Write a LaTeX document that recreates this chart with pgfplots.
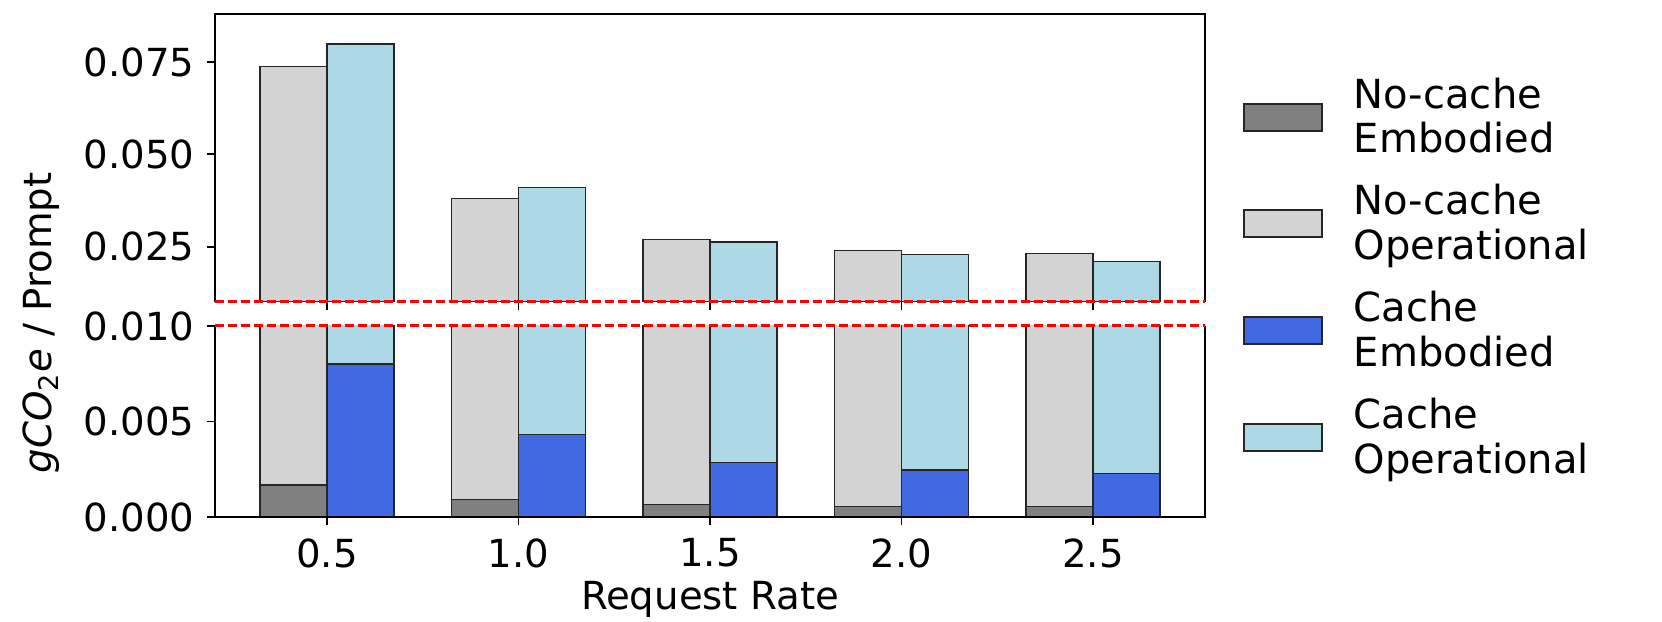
\documentclass[border=0pt]{standalone}
\usepackage{fontspec}
\setmainfont{DejaVu Sans}
\usepackage{pgfplots}
\usepackage{pgfplotstable}
\pgfplotsset{compat=1.18}

\definecolor{ncemb}{HTML}{808080}
\definecolor{ncop}{HTML}{D3D3D3}
\definecolor{cemb}{HTML}{4169E1}
\definecolor{cop}{HTML}{ADD8E6}

% totals (embodied + operational) and embodied part, gCO2e per prompt
\pgfplotstableread{
rate nctot  ncemb   ctot   cemb
0.5  0.0737 0.00168 0.0799 0.00800
1.0  0.0380 0.00092 0.0410 0.00432
1.5  0.0270 0.00064 0.0262 0.00286
2.0  0.0240 0.00056 0.0228 0.00246
2.5  0.0231 0.00054 0.0209 0.00227
}\carbon

\tikzset{brkline/.style={red, line width=0.3mm, dash pattern=on 0.9mm off 0.4mm}}

\pgfplotsset{
  brk/.style={
    scale only axis, width=99mm, anchor=south west,
    xmin=0.2075, xmax=2.7925,
    xtick={0.5,1.0,1.5,2.0,2.5}, xtick pos=bottom, ytick pos=left,
    tick align=outside, major tick length=0.8mm,
    tick style={black, line width=0.55pt},
    axis line style={draw=none},
    scaled ticks=false,
    /pgf/number format/assume math mode=true,
    yticklabel style={/pgf/number format/fixed, /pgf/number format/fixed zerofill,
      /pgf/number format/precision=3, inner xsep=0pt, xshift=-1.2mm},
    xticklabel style={/pgf/number format/fixed, /pgf/number format/fixed zerofill,
      /pgf/number format/precision=1},
  },
  ncbar/.style={ybar, bar width=0.175, bar shift=-0.0875, draw=black!85, line width=0.4pt, forget plot},
  cbar/.style={ybar, bar width=0.175, bar shift=0.0875, draw=black!85, line width=0.4pt, forget plot},
}

\newcommand{\legfont}{\fontsize{11.4}{12.8}\selectfont}
% one legend row: swatch and its two text lines; the row box is fixed at 10.68mm
\newcommand{\legrow}[3]{%
  \addlegendimage{legend image code/.code={%
    \path[draw=none, fill=none] (0mm,-5.34mm) rectangle (1pt,5.34mm);
    \draw[fill=#1, draw=black!85, line width=0.55pt] (0.1mm,-1.35mm) rectangle (7.96mm,1.35mm);
    \node[overlay, anchor=base west, inner sep=0pt, font=\legfont] at (11.1mm,0.9mm) {#2};
    \node[overlay, anchor=base west, inner sep=0pt, font=\legfont] at (11.1mm,-3.55mm) {#3};}}%
  \addlegendentry{}}

\begin{document}
\fontsize{11}{13.2}\selectfont
\begin{tikzpicture}
\useasboundingbox (0,0) rectangle (166.2mm,62.2mm);

% upper part of the broken axis
\begin{axis}[brk, at={(21.5mm,32.0mm)}, height=28.8mm,
  ymin=0.010, ymax=0.0880, ytick={0.025,0.050,0.075}, xticklabels={},
  after end axis/.append code={
    \draw[line width=0.55pt] (rel axis cs:0,0) -- (rel axis cs:0,1) -- (rel axis cs:1,1) -- (rel axis cs:1,0);
    \draw[brkline] (rel axis cs:0,0) -- (rel axis cs:1,0);
  }]
\addplot[ncbar, fill=ncop] table[x=rate, y=nctot] {\carbon};
\addplot[ncbar, fill=ncemb] table[x=rate, y=ncemb] {\carbon};
\addplot[cbar, fill=cop] table[x=rate, y=ctot] {\carbon};
\addplot[cbar, fill=cemb] table[x=rate, y=cemb] {\carbon};
\end{axis}

% lower part
\begin{axis}[brk, at={(21.5mm,10.5mm)}, height=19.1mm,
  ymin=0, ymax=0.010, ytick={0,0.005,0.010},
  xlabel={Request Rate},
  xlabel style={at={(axis description cs:0.5,0)}, anchor=base, inner sep=0pt, yshift=-9.3mm},
  legend style={draw=none, fill=none, at={(1.0381,1.2547)}, anchor=west,
    inner sep=0pt, outer sep=0pt, row sep=0pt, column sep=0pt,
    cells={anchor=west}, nodes={inner sep=0pt}},
  after end axis/.append code={
    \draw[line width=0.55pt] (rel axis cs:0,1) -- (rel axis cs:0,0) -- (rel axis cs:1,0) -- (rel axis cs:1,1);
    \draw[brkline] (rel axis cs:0,1) -- (rel axis cs:1,1);
  }]
\addplot[ncbar, fill=ncop] table[x=rate, y=nctot] {\carbon};
\addplot[ncbar, fill=ncemb] table[x=rate, y=ncemb] {\carbon};
\addplot[cbar, fill=cop] table[x=rate, y=ctot] {\carbon};
\addplot[cbar, fill=cemb] table[x=rate, y=cemb] {\carbon};
\legrow{ncemb}{No-cache}{Embodied}
\legrow{ncop}{No-cache}{Operational}
\legrow{cemb}{Cache}{Embodied}
\legrow{cop}{Cache}{Operational}
\end{axis}

\node[rotate=90, inner sep=0pt] at (4.1mm,29.9mm) {\textit{gCO}\textsubscript{2}\textit{e} / Prompt};
\end{tikzpicture}
\end{document}
